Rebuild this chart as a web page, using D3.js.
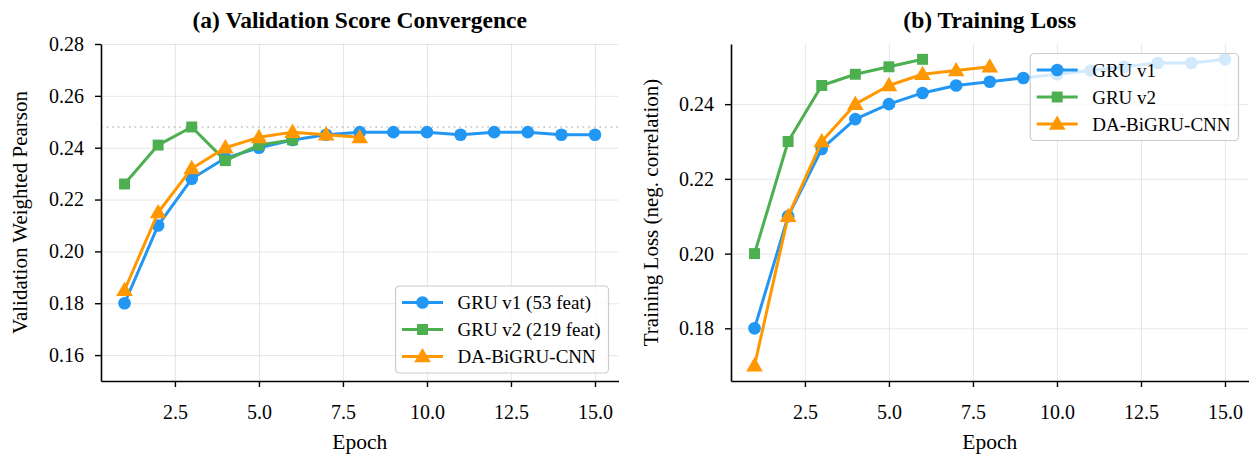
<!DOCTYPE html>
<html>
<head>
<meta charset="utf-8">
<script src="https://cdn.jsdelivr.net/npm/d3@7"></script>
<style>
  body { margin: 0; background: #fff; }
  svg, svg text { font-family: "Liberation Serif", "DejaVu Serif", serif; }
  .grid line { stroke: #b0b0b0; stroke-opacity: 0.3; }
  .grid path { display: none; }
  .axis path, .axis line { stroke: #000; }
</style>
</head>
<body>
<svg id="chart" width="1257" height="458"></svg>
<script>
// ---- data ----
const epochs = [1, 2, 3, 4, 5, 6, 7, 8, 9, 10, 11, 12, 13, 14, 15];

const valGruV1 = [0.180, 0.210, 0.228, 0.236, 0.240, 0.243, 0.245, 0.246, 0.246, 0.246, 0.245, 0.246, 0.246, 0.245, 0.245];
const valGruV2 = [0.226, 0.241, 0.248, 0.235, 0.241, 0.243];
const valDaBigru = [0.185, 0.215, 0.232, 0.240, 0.244, 0.246, 0.245, 0.244];

const lossGruV1 = [0.180, 0.210, 0.228, 0.236, 0.240, 0.243, 0.245, 0.246, 0.247, 0.248, 0.249, 0.250, 0.251, 0.251, 0.252];
const lossGruV2 = [0.200, 0.230, 0.245, 0.248, 0.250, 0.252];
const lossDaBigru = [0.170, 0.210, 0.230, 0.240, 0.245, 0.248, 0.249, 0.250];

const bestVal = 0.248;

const xTicks = [2.5, 5.0, 7.5, 10.0, 12.5, 15.0];
const valTicks = [0.16, 0.18, 0.20, 0.22, 0.24, 0.26, 0.28];
const lossTicks = [0.18, 0.20, 0.22, 0.24];

const namesVal = ["GRU v1 (53 feat)", "GRU v2 (219 feat)", "DA-BiGRU-CNN"];
const namesLoss = ["GRU v1", "GRU v2", "DA-BiGRU-CNN"];

const colors = ["#2196F3", "#4CAF50", "#FF9800"];
const markers = [d3.symbolCircle, d3.symbolSquare, d3.symbolTriangle];
const markerSize = [125, 120, 120];
const SERIF = "Liberation Serif, DejaVu Serif, serif";

const svg = d3.select("#chart");

function makeSeries(values) {
  return values.map((v, i) => ({ x: epochs[i], y: v }));
}

function drawPanel(opts) {
  const { left, right, top, bottom } = opts.box;
  const g = svg.append("g");

  const x = d3.scaleLinear().domain([0.3, 15.7]).range([left, right]);
  const y = d3.scaleLinear().domain(opts.yDomain).range([bottom, top]);

  // grid
  g.append("g").attr("class", "grid")
    .attr("transform", `translate(0,${bottom})`)
    .call(d3.axisBottom(x).tickValues(xTicks).tickSize(-(bottom - top)).tickFormat(""));
  g.append("g").attr("class", "grid")
    .attr("transform", `translate(${left},0)`)
    .call(d3.axisLeft(y).tickValues(opts.yTicks).tickSize(-(right - left)).tickFormat(""));

  if (opts.refLine != null) {
    g.append("line")
      .attr("x1", left).attr("x2", right)
      .attr("y1", y(opts.refLine)).attr("y2", y(opts.refLine))
      .attr("stroke", "#808080").attr("stroke-opacity", 0.5)
      .attr("stroke-width", 1.6).attr("stroke-dasharray", "1.6,4");
  }

  const line = d3.line().x(d => x(d.x)).y(d => y(d.y));

  opts.series.forEach((vals, i) => {
    const pts = makeSeries(vals);
    g.append("path")
      .datum(pts)
      .attr("fill", "none")
      .attr("stroke", colors[i])
      .attr("stroke-width", 3)
      .attr("stroke-linejoin", "round")
      .attr("d", line);
    g.selectAll(null)
      .data(pts)
      .join("path")
      .attr("transform", d => `translate(${x(d.x)},${y(d.y) + (i === 2 ? 1 : 0)})`)
      .attr("d", d3.symbol(markers[i], markerSize[i]))
      .attr("fill", colors[i]);
  });

  // spines + ticks
  const xAxis = g.append("g").attr("class", "axis")
    .attr("transform", `translate(0,${bottom})`)
    .call(d3.axisBottom(x).tickValues(xTicks).tickSize(6).tickSizeOuter(0).tickFormat(d3.format(".1f")));
  const yAxis = g.append("g").attr("class", "axis")
    .attr("transform", `translate(${left},0)`)
    .call(d3.axisLeft(y).tickValues(opts.yTicks).tickSize(6).tickPadding(11).tickSizeOuter(0).tickFormat(d3.format(".2f")));
  [xAxis, yAxis].forEach(ax => {
    ax.attr("font-family", SERIF).attr("font-size", 20);
    ax.select(".domain").attr("stroke-width", 1.6);
    ax.selectAll(".tick line").attr("stroke-width", 1.4);
    ax.selectAll(".tick text").attr("fill", "#000");
  });
  xAxis.selectAll(".tick text").attr("y", 38).attr("dy", null);

  // titles and labels
  svg.append("text")
    .attr("x", (left + right) / 2).attr("y", 28)
    .attr("text-anchor", "middle")
    .attr("font-family", SERIF)
    .attr("font-size", 23.5).attr("font-weight", "bold")
    .text(opts.title);
  svg.append("text")
    .attr("x", (left + right) / 2).attr("y", 449)
    .attr("text-anchor", "middle")
    .attr("font-family", SERIF)
    .attr("font-size", 21.5)
    .text("Epoch");
  svg.append("text")
    .attr("transform", `translate(${opts.yLabelX},${(top + bottom) / 2}) rotate(-90)`)
    .attr("text-anchor", "middle")
    .attr("font-family", SERIF)
    .attr("font-size", 21)
    .text(opts.yLabel);

  // legend
  const leg = g.append("g").attr("font-family", SERIF);
  const frame = leg.append("rect");
  const rowGap = 27;
  const pad = 16.5;
  const texts = opts.names.map((name, i) =>
    leg.append("text")
      .attr("x", 62).attr("y", pad + i * rowGap)
      .attr("dy", "0.35em")
      .attr("font-size", 19)
      .text(name));
  opts.names.forEach((name, i) => {
    const cy = pad + i * rowGap;
    leg.append("line")
      .attr("x1", 6.5).attr("x2", 47.5).attr("y1", cy).attr("y2", cy)
      .attr("stroke", colors[i]).attr("stroke-width", 3);
    leg.append("path")
      .attr("transform", `translate(27,${cy + (i === 2 ? 1 : 0)})`)
      .attr("d", d3.symbol(markers[i], markerSize[i]))
      .attr("fill", colors[i]);
  });
  const tw = d3.max(texts, t => t.node().getComputedTextLength());
  const w = 62 + tw + 8;
  const h = pad * 2 + 2 * rowGap;
  frame.attr("width", w).attr("height", h).attr("rx", 4)
    .attr("fill", "#fff").attr("fill-opacity", 0.8)
    .attr("stroke", "#cccccc").attr("stroke-width", 1.2);
  const lx = right - 10 - w;
  const ly = opts.legendAt === "bottom" ? bottom - 8 - h : top + 9.5;
  leg.attr("transform", `translate(${lx},${ly})`);
}

drawPanel({
  box: { left: 101, right: 618.5, top: 44, bottom: 381 },
  yDomain: [0.15, 0.28],
  yTicks: valTicks,
  series: [valGruV1, valGruV2, valDaBigru],
  names: namesVal,
  refLine: bestVal,
  title: "(a) Validation Score Convergence",
  yLabel: "Validation Weighted Pearson",
  yLabelX: 27,
  legendAt: "bottom"
});

drawPanel({
  box: { left: 731, right: 1248.5, top: 44, bottom: 381 },
  yDomain: [0.1659, 0.2561],
  yTicks: lossTicks,
  series: [lossGruV1, lossGruV2, lossDaBigru],
  names: namesLoss,
  refLine: null,
  title: "(b) Training Loss",
  yLabel: "Training Loss (neg. correlation)",
  yLabelX: 658,
  legendAt: "top"
});
</script>
</body>
</html>
